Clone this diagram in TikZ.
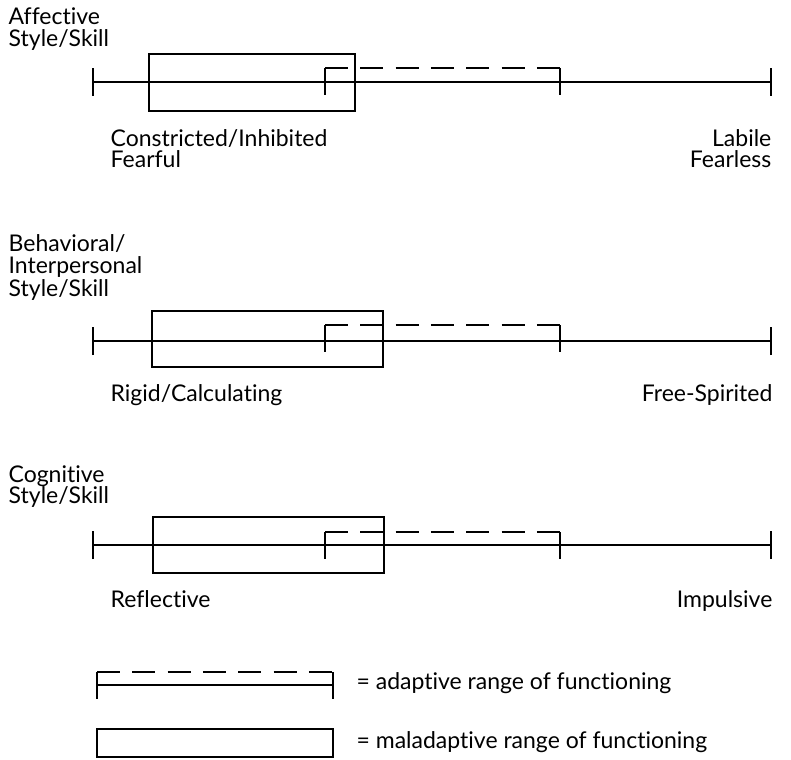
\documentclass[tikz,border=0pt]{standalone}
\usepackage{fontspec}
\setmainfont{Lato}[Ligatures=NoCommon]
\begin{document}
\begin{tikzpicture}[x=1pt,y=-1pt,line width=1.3pt,
  lab/.style={inner sep=0pt,font=\fontsize{23}{21}\selectfont},
  lw/.style={lab,anchor=base west},
  le/.style={lab,anchor=base east},
  adap/.style={dash pattern=on 23pt off 12.33pt}]
\useasboundingbox[fill=white] (0,0) rectangle (791,759);
% panels: axis y / box x1 / box x2 / box y1 / box y2 / adaptive top / adaptive bottom
\foreach \ay/\bxa/\bxb/\bya/\byb/\at/\ab in {82/149/355/54/111/68/95, 341/152/383/311/367/325/352, 545/153/384/517/573/532/559}{
  \coordinate (axl) at (93,\ay);
  \coordinate (axr) at (771,\ay);
  \draw (axl) -- (axr);
  \draw ([yshift=-14pt]axl) -- ([yshift=14pt]axl);
  \draw ([yshift=-14pt]axr) -- ([yshift=14pt]axr);
  \draw (\bxa,\bya) rectangle (\bxb,\byb);
  \coordinate (adl) at (325,\at);
  \coordinate (adr) at (560,\at);
  \draw (adl) -- (325,\ab);
  \draw (adr) -- (560,\ab);
  \draw[adap] (adl) -- (adr);
}
% labels panel 1
\node[lw] (a1) at (8,25) {Affective};
\node[lw] (a2) at (8,47) {Style/Skill};
\node[lw] (l1a) at (110,147) {Constricted/Inhibited};
\node[lw] (l1b) at (110,168) {Fearful};
\node[le] (r1a) at (772,147) {Labile};
\node[le] (r1b) at (772,168) {Fearless};
% panel 2
\node[lw] (b1) at (8,251) {Behavioral/};
\node[lw] (b2) at (8,273) {Interpersonal};
\node[lw] (b3) at (8,296) {Style/Skill};
\node[lw] (l2) at (110,401) {Rigid/Calculating};
\node[le] (r2) at (773,401) {Free-Spirited};
% panel 3
\node[lw] (c1) at (8,482) {Cognitive};
\node[lw] (c2) at (8,503) {Style/Skill};
\node[lw] (l3) at (110,607) {Reflective};
\node[le] (r3) at (773,607) {Impulsive};
% legend
\coordinate (gl) at (97,672);
\coordinate (gr) at (333,672);
\draw (gl) -- (97,699);
\draw (gr) -- (333,699);
\draw (97,685) -- (333,685);
\draw[adap] (gl) -- (gr);
\node[lw] (t1) at (356,689) {= adaptive range of functioning};
\draw (97,729) rectangle (333,757);
\node[lw] (t2) at (356,748) {= maladaptive range of functioning};
\end{tikzpicture}
\end{document}
